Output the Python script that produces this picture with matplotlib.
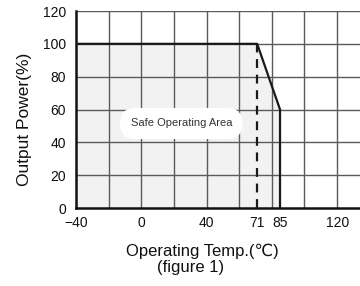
import numpy as np
import matplotlib.pyplot as plt

# derating curve data
temp = [-40, 71, 85, 85]
power = [100, 100, 60, 0]
xticks = [-40, 0, 40, 71, 85, 120]
yticks = [0, 20, 40, 60, 80, 100, 120]
grid_x = np.arange(-20, 140, 20)
grid_y = np.arange(20, 140, 20)

plt.rcParams['font.family'] = ['Liberation Sans', 'DejaVu Sans']

fig = plt.figure(figsize=(3.6, 2.86), dpi=100)
ax = fig.add_axes([0.211, 0.2727, 0.789, 0.6888])

ax.set_xlim(-40, 134)
ax.set_ylim(0, 120)

# shaded safe area
ax.fill_between(temp, power, 0, color='#f2f2f2', zorder=0)

# grid
for gx in grid_x:
    ax.axvline(gx, color='#5a5a5a', lw=1.0, zorder=1)
for gy in grid_y:
    ax.axhline(gy, color='#5a5a5a', lw=1.0, zorder=1)

# curve and 71 dashed marker
ax.plot(temp, power, color='#1a1a1a', lw=1.6, zorder=3)
ax.plot([71, 71], [0, 100], color='#1a1a1a', lw=1.6, ls=(0, (4, 3)), zorder=3)

ax.text(24.5, 51.5, 'Safe Operating Area', fontsize=8, color='#333333',
        ha='center', va='center', zorder=4,
        bbox=dict(boxstyle='round,pad=0.95,rounding_size=1.4', fc='white', ec='none'))

for s in ['top', 'right']:
    ax.spines[s].set_visible(False)
for s in ['left', 'bottom']:
    ax.spines[s].set_linewidth(1.8)
    ax.spines[s].set_color('#111111')

ax.set_xticks(xticks)
ax.set_yticks(yticks)
ax.tick_params(length=0, labelsize=10, colors='#111111')
ax.tick_params(axis='x', pad=6)
ax.tick_params(axis='y', pad=7)

fig.text(0.067, 0.582, 'Output Power(%)', fontsize=12.5, rotation=90,
         ha='center', va='center', color='#111111')
fig.text(0.561, 0.122, 'Operating Temp.(℃)', fontsize=12, ha='center', va='center', color='#111111')
fig.text(0.528, 0.063, '(figure 1)', fontsize=12, ha='center', va='center', color='#111111')

fig.savefig('out.png', dpi=100)
